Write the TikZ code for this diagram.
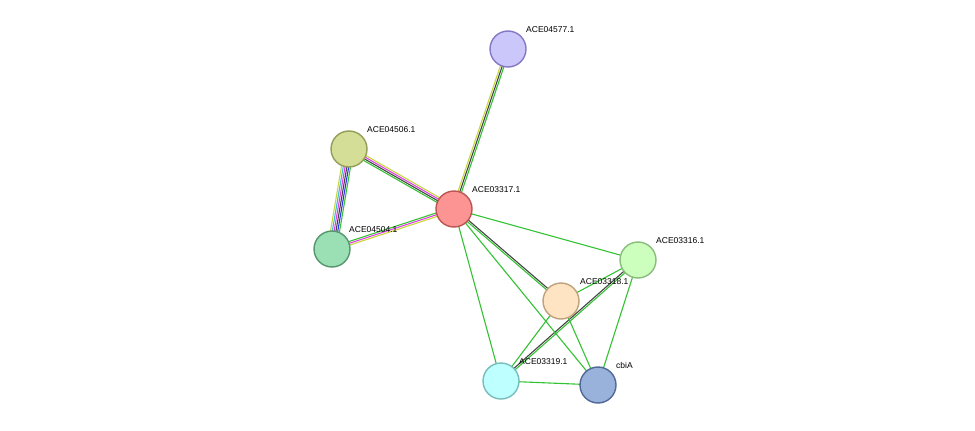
\documentclass[tikz,border=0pt]{standalone}
\usepackage{fontspec}
\setmainfont{Liberation Sans}
\usetikzlibrary{calc}
\definecolor{eg}{HTML}{33C233}
\definecolor{ek}{HTML}{444444}
\definecolor{ey}{HTML}{C8D640}
\definecolor{em}{HTML}{E040E0}
\definecolor{eb}{HTML}{3030F0}
\definecolor{ec}{HTML}{40B8E0}
\tikzset{
 prot/.style={circle,draw,line width=1.4pt,minimum size=36pt,inner sep=0pt},
 lab/.style={font=\fontsize{8.5}{10}\selectfont,anchor=south west,inner sep=1pt},
 e/.style={line width=1.1pt}
}
\newcommand{\ml}[4]{\draw[e,#4] ($(#1)!#3!90:(#2)$) -- ($(#2)!#3!-90:(#1)$);}
\begin{document}
\begin{tikzpicture}[x=1pt,y=-1pt]
\useasboundingbox (0,0) rectangle (975,431);
\coordinate (A) at (508,49);
\coordinate (B) at (349,149);
\coordinate (C) at (454,209);
\coordinate (D) at (332,249);
\coordinate (E) at (638,260);
\coordinate (F) at (561,301);
\coordinate (G) at (501,381);
\coordinate (H) at (598,385);
% edges
\ml{C}{A}{-1.8pt}{eg}\ml{C}{A}{0pt}{ek}\ml{C}{A}{1.8pt}{ey}
\ml{B}{C}{2.7pt}{ey}\ml{B}{C}{0.9pt}{em}\ml{B}{C}{-0.9pt}{ek}\ml{B}{C}{-2.7pt}{eg}
\ml{B}{D}{4.5pt}{eg}\ml{B}{D}{2.7pt}{eb}\ml{B}{D}{0.9pt}{ek}\ml{B}{D}{-0.9pt}{em}\ml{B}{D}{-2.7pt}{ec}\ml{B}{D}{-4.5pt}{ey}
\ml{D}{C}{-1.8pt}{ey}\ml{D}{C}{0pt}{em}\ml{D}{C}{1.8pt}{eg}
\ml{C}{F}{0.9pt}{ek}\ml{C}{F}{-0.9pt}{eg}
\ml{E}{G}{-0.9pt}{ek}\ml{E}{G}{0.9pt}{eg}
\draw[e,eg] (C)--(E) (C)--(G) (C)--(H) (E)--(F) (E)--(H) (F)--(G) (F)--(H) (G)--(H);
% nodes
\node[prot,fill=cyan!0!white,fill={rgb,255:red,204;green,199;blue,250},draw={rgb,255:red,132;green,120;blue,196}] (n1) at (A) {};
\node[prot,fill={rgb,255:red,212;green,222;blue,150},draw={rgb,255:red,148;green,158;blue,90}] (n2) at (B) {};
\node[prot,fill={rgb,255:red,252;green,148;blue,148},draw={rgb,255:red,188;green,84;blue,84}] (n3) at (C) {};
\node[prot,fill={rgb,255:red,154;green,224;blue,180},draw={rgb,255:red,86;green,150;blue,110}] (n4) at (D) {};
\node[prot,fill={rgb,255:red,204;green,255;blue,190},draw={rgb,255:red,138;green,188;blue,124}] (n5) at (E) {};
\node[prot,fill={rgb,255:red,255;green,228;blue,196},draw={rgb,255:red,190;green,162;blue,124}] (n6) at (F) {};
\node[prot,fill={rgb,255:red,190;green,255;blue,255},draw={rgb,255:red,120;green,188;blue,188}] (n7) at (G) {};
\node[prot,fill={rgb,255:red,152;green,178;blue,220},draw={rgb,255:red,80;green,104;blue,150}] (n8) at (H) {};
\node[lab] at (525,34) {ACE04577.1};
\node[lab] at (366,134) {ACE04506.1};
\node[lab] at (471,194) {ACE03317.1};
\node[lab] at (348,234) {ACE04504.1};
\node[lab] at (655,245) {ACE03316.1};
\node[lab] at (579,286) {ACE03318.1};
\node[lab] at (518,366) {ACE03319.1};
\node[lab] at (615,370) {cbiA};
\end{tikzpicture}
\end{document}
